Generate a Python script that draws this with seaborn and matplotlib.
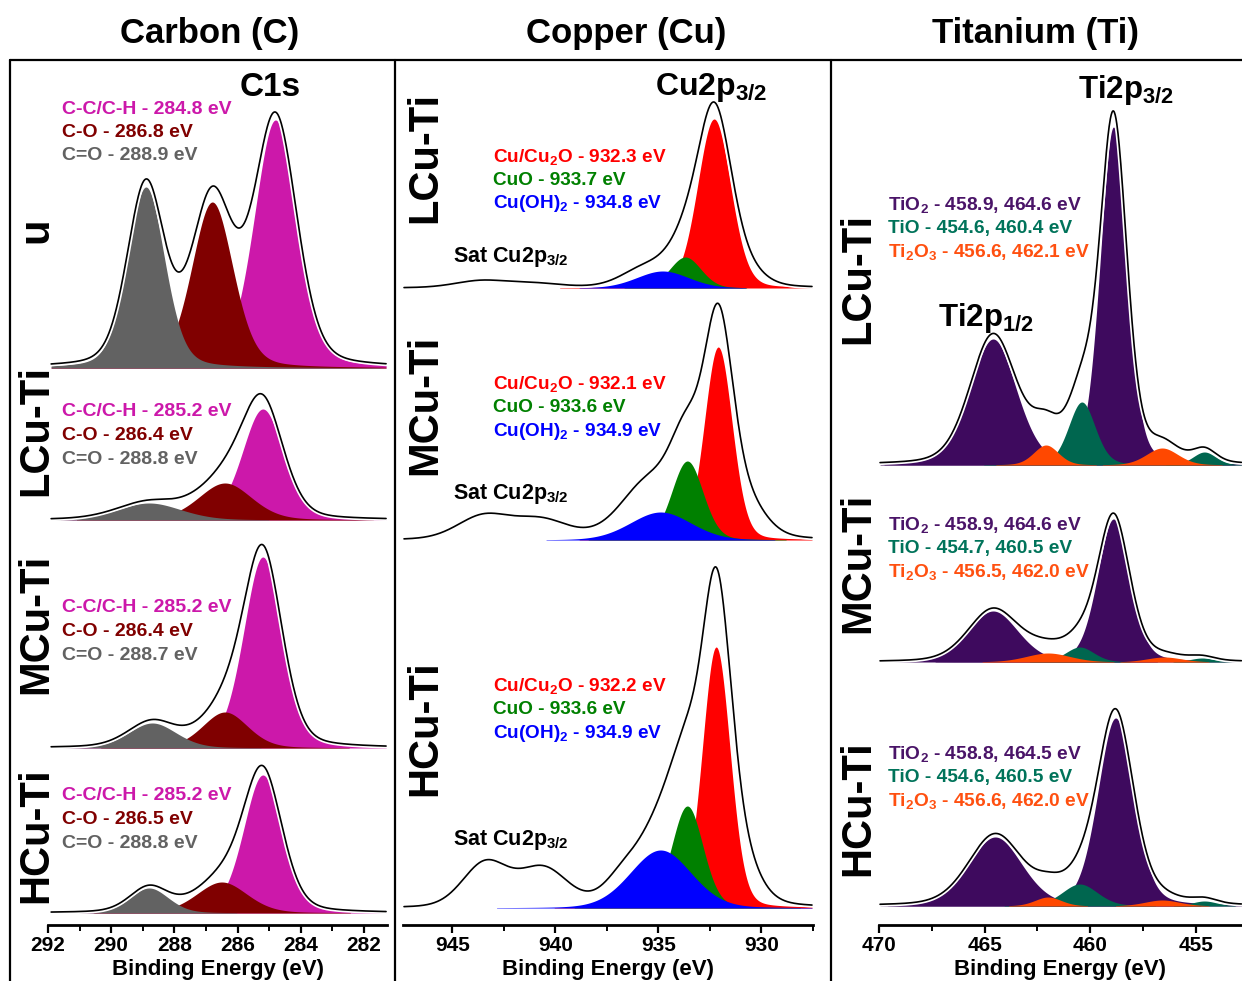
import matplotlib
matplotlib.use("Agg")
import matplotlib.pyplot as plt
import matplotlib.patheffects as pe
from matplotlib.lines import Line2D
from matplotlib.ticker import MultipleLocator
import numpy as np
import pandas as pd
import seaborn as sns

# ---------------- data ----------------
# peak heights are in pixel-ish arbitrary units, fwhm in eV

# Carbon C1s
carbon_samples = ["u", "LCu-Ti", "MCu-Ti", "HCu-Ti"]
carbon_species = ["C-C/C-H", "C-O", "C=O"]
carbon_centers = [[284.8, 286.8, 288.9], [285.2, 286.4, 288.8],
                  [285.2, 286.4, 288.7], [285.2, 286.5, 288.8]]
carbon_heights = [[248, 166, 181], [111, 37, 17], [191, 36, 25], [138, 31, 25]]
carbon_fwhm = [[1.6, 1.55, 1.4], [1.55, 2.0, 2.4], [1.45, 1.7, 1.8], [1.45, 1.9, 1.45]]
carbon_gain = [1.0, 1.0, 1.01, 1.0]

# Copper Cu2p3/2
cu_samples = ["LCu-Ti", "MCu-Ti", "HCu-Ti"]
cu_species = ["Cu/Cu$_2$O", "CuO", "Cu(OH)$_2$"]
cu_centers = [[932.3, 933.7, 934.8], [932.1, 933.6, 934.9], [932.2, 933.6, 934.9]]
cu_heights = [[169, 31, 17], [193, 79, 28], [261, 102, 58]]
cu_fwhm = [[1.9, 1.8, 3.0], [1.6, 1.8, 3.5], [1.6, 1.8, 3.5]]
# unfitted parts of the measured curve (shoulders + shake-up satellite)
cu_extra_centers = [[931.0, 936.0, 943.6, 941.0],
                    [931.0, 935.6, 943.5, 940.7],
                    [931.4, 934.8, 936.8, 943.4, 940.6]]
cu_extra_heights = [[20, 8, 7, 4], [42, 33, 23, 19], [65, 25, 14, 44, 38]]
cu_extra_fwhm = [[2.2, 2.5, 3.0, 3.0], [2.4, 3.2, 3.0, 3.2], [2.3, 2.0, 2.0, 2.6, 2.8]]

# Titanium Ti2p (each species is a 3/2, 1/2 doublet)
ti_samples = ["LCu-Ti", "MCu-Ti", "HCu-Ti"]
ti_species = ["TiO$_2$", "TiO", "Ti$_2$O$_3$"]
ti_centers = [[[458.9, 464.6], [454.6, 460.4], [456.6, 462.1]],
              [[458.9, 464.6], [454.7, 460.5], [456.5, 462.0]],
              [[458.8, 464.5], [454.6, 460.5], [456.6, 462.0]]]
ti_heights = [[[338, 126], [13, 63], [17, 20]],
              [[143, 51], [4, 15], [5, 9]],
              [[188, 69], [5, 22], [6, 9]]]
ti_fwhm = [[[1.5, 2.6], [1.3, 1.5], [1.8, 1.4]],
           [[1.8, 2.8], [1.4, 1.6], [2.0, 2.5]],
           [[2.0, 3.0], [1.4, 2.0], [2.0, 1.5]]]
ti_gain = [1.02, 1.02, 1.02]
ti_extra_centers = [[462.0], [462.0], [462.0]]
ti_extra_heights = [[12], [3], [3]]
ti_extra_fwhm = [[2.2], [2.2], [2.2]]

# ---------------- style ----------------
sns.set_style("white")
plt.rcParams["font.family"] = ["Liberation Sans", "DejaVu Sans"]
plt.rcParams["font.weight"] = "bold"
plt.rcParams["axes.labelweight"] = "bold"
plt.rcParams["text.color"] = "black"
plt.rcParams["axes.labelcolor"] = "black"
plt.rcParams["xtick.color"] = "black"
plt.rcParams["mathtext.fontset"] = "custom"
plt.rcParams["mathtext.rm"] = "Liberation Sans:bold"
plt.rcParams["mathtext.it"] = "Liberation Sans:bold"
plt.rcParams["mathtext.bf"] = "Liberation Sans:bold"
plt.rcParams["mathtext.default"] = "rm"

carbon_colors = ["#CC18AA", "#800000", "#626262"]
cu_colors = ["#FF0000", "#008000", "#0000FF"]
ti_colors = ["#3E0A5E", "#00664F", "#FF4800"]
ti_text_colors = ["#4A1468", "#00735A", "#FF5010"]

W, H = 1242, 981


def fx(x):
    return x / W


def fy(y):
    return 1 - y / H


def pvoigt(x, c, h, w, eta):
    d = (x - c) / (w / 2)
    return h * ((1 - eta) * np.exp(-np.log(2) * d ** 2) + eta / (1 + d ** 2))


def setup_axis(ax, xlim, major, minor):
    ax.set_xlim(*xlim)
    ax.set_ylim(0, 865)
    ax.set_yticks([])
    for s in ["left", "right", "top"]:
        ax.spines[s].set_visible(False)
    ax.spines["bottom"].set_linewidth(2)
    ax.spines["bottom"].set_color("black")
    ax.xaxis.set_major_locator(MultipleLocator(major))
    ax.xaxis.set_minor_locator(MultipleLocator(minor))
    ax.tick_params(axis="x", which="major", direction="out", length=6, width=1.6,
                   labelsize=15, pad=2, bottom=True)
    ax.tick_params(axis="x", which="minor", direction="out", length=4, width=1.4, bottom=True)
    ax.set_xlabel("Binding Energy (eV)", fontsize=16, labelpad=3)
    ax.set_ylabel("")
    ax.patch.set_alpha(0)


def envelope(ax, x, base, y):
    df = pd.DataFrame({"BE": x, "I": base + y})
    sns.lineplot(data=df, x="BE", y="I", ax=ax, color="black", lw=1.2,
                 estimator=None, sort=False)
    ax.lines[-1].set_path_effects([pe.Stroke(linewidth=3.6, foreground="white"), pe.Normal()])


def fill(ax, x, base, comp, color):
    ax.fill_between(x, base, base + comp, where=comp > 0.4, color=color, lw=0)


fig = plt.figure(figsize=(W / 100, H / 100), dpi=100)

# frames
for xs, ys in [([10, 1242], [60, 60]), ([10, 10], [60, 981]),
               ([395, 395], [60, 981]), ([831, 831], [60, 981])]:
    fig.add_artist(Line2D([fx(v) for v in xs], [fy(v) for v in ys], color="black", lw=1.6))

for t, cx in [("Carbon (C)", 210), ("Copper (Cu)", 626), ("Titanium (Ti)", 1035)]:
    fig.text(fx(cx), fy(33), t, ha="center", va="center", fontsize=25)

# ---------------- Carbon ----------------
axc = fig.add_axes([fx(48), fy(925), fx(387) - fx(48), fy(60) - fy(925)])
carbon_offsets = [557, 405, 177, 12]
carbon_sample_y = [230, 430, 624, 835]
carbon_text_y = [109, 412, 608, 796]
xc = np.linspace(291.9, 281.3, 900)
for k, name in enumerate(carbon_samples):
    base = carbon_offsets[k]
    total = np.zeros_like(xc)
    for j in range(3):
        comp = pvoigt(xc, carbon_centers[k][j], carbon_heights[k][j], carbon_fwhm[k][j], 0.25)
        total += comp
        fill(axc, xc, base, comp, carbon_colors[j])
    envelope(axc, xc, base, carbon_gain[k] * total)
    fig.text(fx(36), fy(carbon_sample_y[k]), name, rotation=90, ha="center", va="center",
             fontsize=30)
    for j in range(3):
        fig.text(fx(62), fy(carbon_text_y[k] + 23.5 * j),
                 f"{carbon_species[j]} - {carbon_centers[k][j]:.1f} eV",
                 color=carbon_colors[j], ha="left", va="center", fontsize=14)
setup_axis(axc, (292, 281.27), 2, 1)
fig.text(fx(270), fy(87), "C1s", ha="center", va="center", fontsize=24)

# ---------------- Copper ----------------
axu = fig.add_axes([fx(403), fy(925), fx(813) - fx(403), fy(60) - fy(925)])
cu_offsets = [637, 385, 17]
cu_sample_y = [157, 405, 728]
cu_text_y = [157, 384, 686]
cu_sat_y = [257, 494, 840]
xu = np.linspace(947.35, 927.55, 900)
for k, name in enumerate(cu_samples):
    base = cu_offsets[k]
    total = np.zeros_like(xu)
    for j in range(3):
        comp = pvoigt(xu, cu_centers[k][j], cu_heights[k][j], cu_fwhm[k][j], 0.15)
        total += comp
        fill(axu, xu, base, comp, cu_colors[j])
    for c, h, w in zip(cu_extra_centers[k], cu_extra_heights[k], cu_extra_fwhm[k]):
        total += pvoigt(xu, c, h, w, 0.15)
    envelope(axu, xu, base, total)
    fig.text(fx(425), fy(cu_sample_y[k]), name, rotation=90, ha="center", va="center",
             fontsize=30)
    for j in range(3):
        fig.text(fx(493), fy(cu_text_y[k] + 23.5 * j),
                 f"{cu_species[j]} - {cu_centers[k][j]:.1f} eV",
                 color=cu_colors[j], ha="left", va="center", fontsize=13.7)
    fig.text(fx(453), fy(cu_sat_y[k]), "Sat Cu2p$_{3/2}$", ha="left", va="center", fontsize=15.5)
setup_axis(axu, (947.4, 927.5), 5, 2.5)
fig.text(fx(655), fy(87), "Cu2p$_{3/2}$", ha="left", va="center", fontsize=23)

# ---------------- Titanium ----------------
axt = fig.add_axes([fx(879), fy(925), fx(1242) - fx(879), fy(60) - fy(925)])
ti_offsets = [460, 263, 19]
ti_sample_y = [278, 563, 808]
ti_text_y = [205, 525, 754]
xt = np.linspace(469.95, 452.85, 900)
for k, name in enumerate(ti_samples):
    base = ti_offsets[k]
    total = np.zeros_like(xt)
    for j in range(3):
        for p in range(2):
            comp = pvoigt(xt, ti_centers[k][j][p], ti_heights[k][j][p], ti_fwhm[k][j][p], 0.25)
            total += comp
            fill(axt, xt, base, comp, ti_colors[j])
    env = ti_gain[k] * total
    for c, h, w in zip(ti_extra_centers[k], ti_extra_heights[k], ti_extra_fwhm[k]):
        env = env + pvoigt(xt, c, h, w, 0.25)
    envelope(axt, xt, base, env)
    fig.text(fx(858), fy(ti_sample_y[k]), name, rotation=90, ha="center", va="center",
             fontsize=30)
    for j in range(3):
        c1, c2 = ti_centers[k][j]
        fig.text(fx(888), fy(ti_text_y[k] + 23.5 * j),
                 f"{ti_species[j]} - {c1:.1f}, {c2:.1f} eV",
                 color=ti_text_colors[j], ha="left", va="center", fontsize=13.8)
setup_axis(axt, (470, 452.82), 5, 2.5)
fig.text(fx(1078), fy(90), "Ti2p$_{3/2}$", ha="left", va="center", fontsize=22.5)
fig.text(fx(938), fy(318), "Ti2p$_{1/2}$", ha="left", va="center", fontsize=22.5)

fig.savefig("out.png", dpi=100)
